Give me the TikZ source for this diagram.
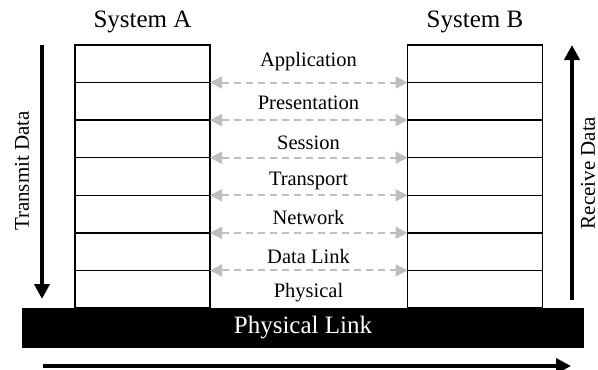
\documentclass[tikz,border=0pt]{standalone}
\usepackage{fontspec}
\setmainfont{Liberation Serif}
\usetikzlibrary{arrows.meta}
\begin{document}
\begin{tikzpicture}[x=1pt,y=-1pt,
  layer/.style={draw, line width=1.4pt, minimum width=135pt, minimum height=37.57pt,
                inner sep=0pt, outer sep=0pt},
  lbl/.style={font=\fontsize{20.5}{24}\selectfont, inner sep=0pt},
  title/.style={font=\fontsize{25}{30}\selectfont, inner sep=0pt},
  side/.style={font=\fontsize{21}{25}\selectfont, inner sep=0pt, rotate=90},
  peer/.style={draw={rgb,255:red,190;green,190;blue,190}, line width=2pt,
               dash pattern=on 7pt off 5pt,
               {Triangle[length=12pt,width=12pt,fill={rgb,255:red,190;green,190;blue,190}]}-{Triangle[length=12pt,width=12pt,fill={rgb,255:red,190;green,190;blue,190}]}},
  flow/.style={line width=4.5pt, -{Triangle[length=15pt,width=15pt]}}]
\useasboundingbox (0,0) rectangle (598,370);

% protocol stacks
\foreach \i in {1,...,7} {
  \node[layer] (a\i) at (142.5, {45+37.57*(\i-0.5)}) {};
  \node[layer] (b\i) at (475, {45+37.57*(\i-0.5)}) {};
}

% stack titles
\node[title] (ta) at (142.5,22) {System A};
\node[title] (tb) at (475,22) {System B};

% layer names
\node[lbl] (l1) at (308.5, 62) {Application};
\node[lbl] (l2) at (308.5,103) {Presentation};
\node[lbl] (l3) at (308.5,143) {Session};
\node[lbl] (l4) at (308.5,181) {Transport};
\node[lbl] (l5) at (308.5,217) {Network};
\node[lbl] (l6) at (308.5,256) {Data Link};
\node[lbl] (l7) at (308.5,293) {Physical};

% peer-to-peer links between matching layers
\foreach \i in {1,...,6} {
  \draw[peer] (a\i.south east) -- (b\i.south west);
}

% physical medium
\node[fill=black, minimum width=562pt, minimum height=40pt, inner sep=0pt,
      text=white, font=\fontsize{25}{30}\selectfont] (link) at (303,328) {Physical Link};

% data flow arrows
\coordinate (tx0) at (42,45);
\coordinate (tx1) at (42,299);
\coordinate (rx0) at (572,300);
\coordinate (rx1) at (572,45);
\coordinate (bt0) at (43,366);
\coordinate (bt1) at (571,366);
\draw[flow] (tx0) -- (tx1);
\draw[flow] (rx0) -- (rx1);
\draw[flow, line width=4pt] (bt0) -- (bt1);

\node[side] (tx) at (22,171) {Transmit Data};
\node[side] (rx) at (588,173) {Receive Data};
\end{tikzpicture}
\end{document}
